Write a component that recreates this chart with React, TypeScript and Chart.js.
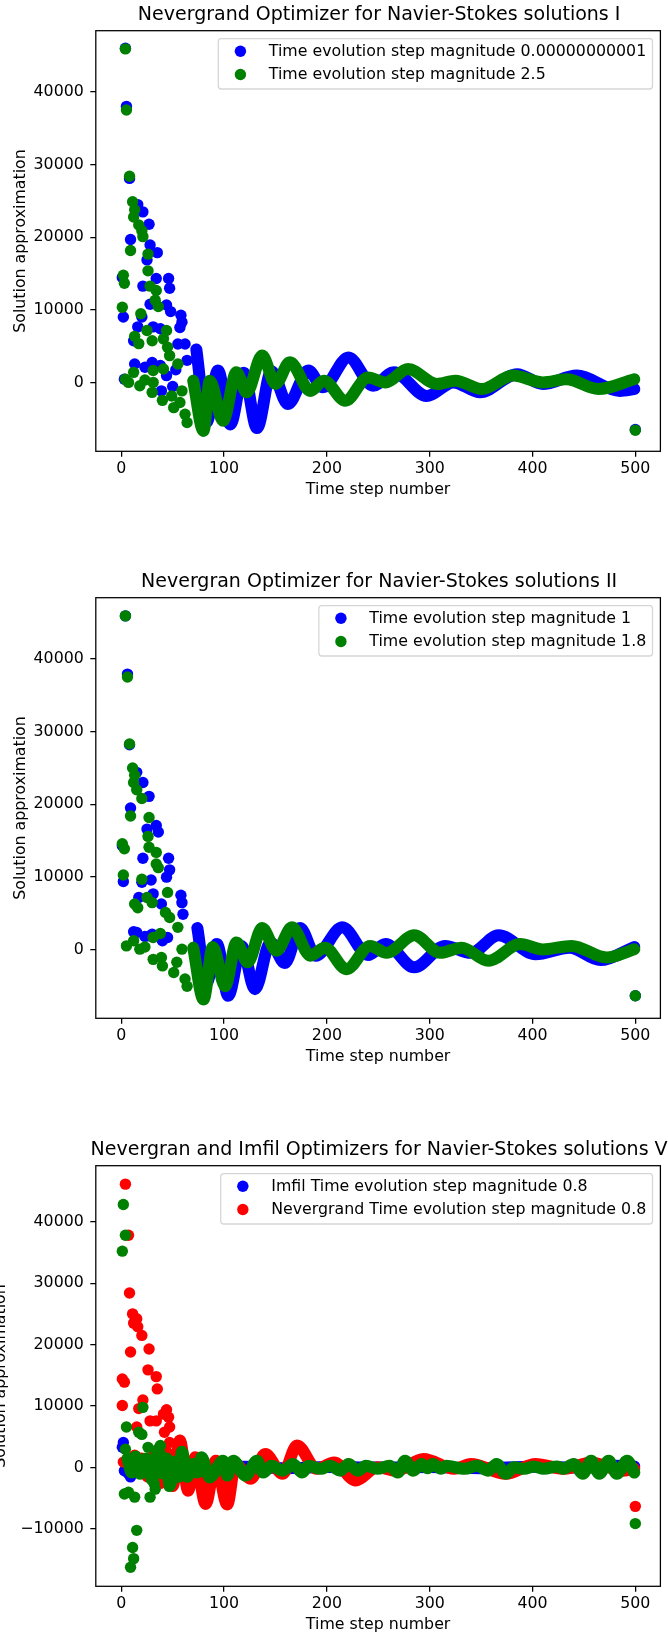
import React, { useEffect, useRef } from "react";
import { Chart, registerables } from "chart.js";

Chart.register(...registerables);

const FONT = "'DejaVu Sans', 'Liberation Sans', sans-serif";
const BLUE = "#0000ff";
const GREEN = "#008000";
const RED = "#ff0000";

const X_LABEL = "Time step number";
const Y_LABEL = "Solution approximation";
const X_TICKS = [0, 100, 200, 300, 400, 500];
const Y_TICKS_A = [0, 10000, 20000, 30000, 40000];
const Y_TICKS_B = [-10000, 0, 10000, 20000, 30000, 40000];

const TITLE_1 = "Nevergrand Optimizer for Navier-Stokes solutions I";
const TITLE_2 = "Nevergran Optimizer for Navier-Stokes solutions II";
const TITLE_3 = "Nevergran and Imfil Optimizers for Navier-Stokes solutions V";

const LEGEND_1 = ["Time evolution step magnitude 0.00000000001", "Time evolution step magnitude 2.5"];
const LEGEND_2 = ["Time evolution step magnitude 1", "Time evolution step magnitude 1.8"];
const LEGEND_3 = ["Imfil Time evolution step magnitude 0.8", "Nevergrand Time evolution step magnitude 0.8"];

// ---------- Chart I ----------
const P1_BLUE_PTS_X = [1, 2, 3, 4, 5, 8, 9, 12, 13, 16, 16, 20, 21, 21, 23, 25, 27, 28, 28, 30, 31, 34, 35, 38, 38, 39, 44, 44, 46, 47, 48, 50, 53, 55, 57, 58, 59, 62, 64, 500];
const P1_BLUE_PTS_Y = [14500, 9050, 500, 46000, 38000, 28100, 19700, 5800, 2600, 24500, 7700, 9050, 23500, 13300, 2150, 16900, 21800, 18950, 10800, 2800, 7700, 14350, 17900, 7450, 2400, -1100, 10700, 1000, 14350, 13000, 9800, -500, 1800, 5350, 7600, 9300, 8350, 5350, 3100, -6400];
const P1_BLUE_BAND_X = [73, 83, 94, 106, 119, 132, 146, 162, 182, 196, 221, 245, 265, 297, 323, 349, 385, 410, 443, 485, 499];
const P1_BLUE_BAND_Y = [4600, -5400, 1700, -5700, 1400, -6200, 1600, -2900, 1700, -600, 3500, -400, 1450, -1800, 70, -1300, 1200, -150, 1000, -1100, -850];

const P1_GREEN_PTS_X = [1, 2, 3, 4, 4, 5, 7, 8, 9, 11, 12, 12, 13, 13, 17, 17, 18, 19, 20, 21, 23, 25, 26, 26, 28, 30, 30, 31, 31, 33, 34, 36, 40, 41, 41, 44, 45, 47, 49, 51, 55, 57, 59, 62, 64, 500];
const P1_GREEN_PTS_Y = [10400, 14800, 13700, 45900, 500, 37500, 70, 28400, 18200, 24900, 22800, 1450, 23800, 6400, 21700, 5400, -400, 9500, 20900, 20100, 400, 7200, 17700, 15400, 13300, 5800, -1300, 1700, 70, 11350, 12700, 10500, -2400, 6050, 1900, 7200, 4900, 3750, -1800, -3400, 2600, -2700, -1100, -4300, -5450, -6500];
const P1_GREEN_BAND_X = [70, 80, 86, 99, 112, 122, 137, 150, 164, 184, 197, 218, 240, 257, 279, 307, 325, 351, 381, 410, 433, 464, 499];
const P1_GREEN_BAND_Y = [300, -6600, 300, -5200, 1450, -1300, 3750, -150, 2850, -1100, 300, -2450, 750, 70, 1900, -150, 300, -850, 1000, 70, 500, -850, 500];

// ---------- Chart II ----------
const P2_BLUE_PTS_X = [1, 2, 4, 6, 8, 9, 12, 15, 15, 17, 20, 21, 21, 23, 25, 27, 28, 29, 30, 31, 34, 36, 39, 40, 44, 45, 46, 47, 58, 59, 60, 500];
const P2_BLUE_PTS_Y = [14300, 9400, 45900, 37900, 28200, 19500, 2500, 24400, 2400, 7200, 9300, 23000, 12600, 1850, 16600, 21100, 1900, 9600, 2150, 7700, 17100, 16200, 6300, 1250, 10000, 1700, 12600, 11000, 7500, 6500, 4900, -6300];
const P2_BLUE_BAND_X = [74, 83, 93, 104, 117, 130, 145, 159, 174, 189, 215, 240, 257, 285, 315, 340, 367, 403, 436, 466, 499];
const P2_BLUE_BAND_Y = [3000, -4500, 800, -6300, 550, -5400, 1000, -1800, 3000, -800, 3100, -700, 800, -2400, 550, -400, 2000, -600, 300, -1400, 400];

const P2_GREEN_PTS_X = [1, 2, 3, 4, 5, 6, 8, 9, 11, 12, 12, 13, 13, 15, 16, 18, 20, 20, 23, 25, 26, 27, 27, 30, 31, 31, 34, 34, 36, 38, 39, 40, 43, 45, 47, 51, 54, 55, 59, 62, 64, 500];
const P2_GREEN_PTS_Y = [14600, 10300, 13900, 45900, 550, 37500, 28300, 18400, 25000, 23000, 1250, 24000, 6300, 22000, 5800, 100, 20800, 9700, 400, 7200, 15600, 18200, 14100, 6500, 1700, -1300, 13400, 11800, 11300, 2250, -1050, -2200, 5150, 7900, 4450, -3100, -1700, 3100, 100, -4000, -5000, -6300];
const P2_GREEN_BAND_X = [70, 80, 89, 101, 112, 123, 137, 151, 166, 184, 198, 219, 242, 258, 285, 310, 331, 357, 388, 410, 438, 472, 499];
const P2_GREEN_BAND_Y = [300, -6800, 400, -5000, 1000, -1700, 3000, -100, 3100, -800, 300, -2650, 550, -400, 2000, -400, 300, -1500, 800, 70, 550, -1050, 100];

// ---------- Chart V ----------
const P3_BLUE_PTS_X = [1, 2, 3, 7, 9];
const P3_BLUE_PTS_Y = [3300, 4100, -500, -1000, -1500];
const P3_BLUE_BAND_X = [10, 40, 80, 120, 160, 200, 250, 300, 350, 400, 450, 480, 499];
const P3_BLUE_BAND_Y = [-800, 200, 0, 150, -100, 100, 0, 100, -100, 150, 0, 300, 200];

const P3_RED_PTS_X = [1, 1, 2, 3, 4, 7, 8, 9, 11, 12, 13, 15, 15, 16, 17, 20, 21, 26, 27, 28, 34, 34, 35, 41, 42, 44, 46, 47, 47, 57, 500];
const P3_RED_PTS_Y = [14400, 10100, 900, 13900, 46100, 37800, 28400, 18800, 25000, 23500, 2000, 24200, 6600, 22900, 9600, 21500, 11000, 15900, 19300, 7600, 14800, 7600, 12800, 8700, 5750, 9400, 8200, 6600, 4100, 4400, -6300];
const P3_RED_BAND_X = [20, 26, 32, 38, 44, 50, 57, 65, 72, 82, 92, 103, 111, 126, 140, 157, 171, 190, 207, 228, 249, 267, 294, 324, 340, 374, 403, 431, 457, 487, 499];
const P3_RED_BAND_Y = [1500, -1500, 2000, -2500, 2500, -3000, 4400, -3750, 1700, -5900, 1100, -6000, 600, -1800, 2200, -1000, 3600, -200, 850, -2100, 50, -500, 1400, -200, 600, -1000, 600, -200, 850, -500, -200];

const P3_GREEN_PTS_X = [1, 2, 3, 4, 4, 5, 7, 9, 11, 12, 13, 15, 17, 20, 21, 26, 28, 32, 33, 38, 47, 500];
const P3_GREEN_PTS_Y = [35200, 42800, -4300, 37800, 3000, 6600, -4000, -16200, -13000, -14800, -4800, -10200, 5750, 5400, 9800, 3300, -4800, -2600, -3500, 3600, -2900, -9100];
const P3_GREEN_BAND_X = [6, 10, 14, 18, 24, 30, 36, 41, 44, 47, 53, 56, 59, 64, 70, 74, 78, 86, 99, 103, 109, 121, 132, 138, 146, 157, 167, 176, 182, 194, 203, 213, 221, 230, 238, 249, 261, 269, 276, 284, 292, 298, 303, 311, 316, 334, 346, 357, 365, 374, 382, 392, 401, 411, 424, 430, 440, 449, 457, 465, 474, 482, 492, 499];
const P3_GREEN_BAND_Y = [1500, -800, 1800, -1000, 1500, -2000, 3000, -1000, 1500, -3000, 1000, -1500, 2600, -1500, 600, -800, 1700, -1600, 1100, -1300, 1100, -1300, 1100, -800, 300, -500, 600, -800, 300, -200, 300, -500, 600, -500, 300, -200, 300, -800, 1100, -500, 600, -100, 600, -200, 300, -200, 300, -500, 600, -1000, 50, -200, 200, -200, 200, -200, 600, -1000, 1100, -1000, 1100, -1000, 1100, -800];

// ---------- layout ----------
const W = 668;
const BOX_LEFT = 95.8;
const BOX_RIGHT = 660.4;
const BOX_TOP = 30.7;
const BOX_BOTTOM = 451.3;
const X_MIN = -24.8;
const X_MAX = 524.4;
const DOT_R = 5.7;
const BAND_W = 12;
const TICK_FONT = 15.8;
const TITLE_FONT = 19;

type Series = {
  color: string;
  legend?: string;
  ptsX: number[];
  ptsY: number[];
  bandX: number[];
  bandY: number[];
};

type Spec = {
  title: string;
  series: Series[];
  yMin: number;
  yMax: number;
  yTicks: number[];
  yLabelX: number;
  top: number;
  height: number;
};

const SPECS: Spec[] = [
  {
    title: TITLE_1,
    series: [
      { color: BLUE, legend: LEGEND_1[0], ptsX: P1_BLUE_PTS_X, ptsY: P1_BLUE_PTS_Y, bandX: P1_BLUE_BAND_X, bandY: P1_BLUE_BAND_Y },
      { color: GREEN, legend: LEGEND_1[1], ptsX: P1_GREEN_PTS_X, ptsY: P1_GREEN_PTS_Y, bandX: P1_GREEN_BAND_X, bandY: P1_GREEN_BAND_Y },
    ],
    yMin: -9400,
    yMax: 48400,
    yTicks: Y_TICKS_A,
    yLabelX: 20.5,
    top: 0,
    height: 567,
  },
  {
    title: TITLE_2,
    series: [
      { color: BLUE, legend: LEGEND_2[0], ptsX: P2_BLUE_PTS_X, ptsY: P2_BLUE_PTS_Y, bandX: P2_BLUE_BAND_X, bandY: P2_BLUE_BAND_Y },
      { color: GREEN, legend: LEGEND_2[1], ptsX: P2_GREEN_PTS_X, ptsY: P2_GREEN_PTS_Y, bandX: P2_GREEN_BAND_X, bandY: P2_GREEN_BAND_Y },
    ],
    yMin: -9400,
    yMax: 48400,
    yTicks: Y_TICKS_A,
    yLabelX: 20.5,
    top: 567,
    height: 567,
  },
  {
    title: TITLE_3,
    series: [
      { color: BLUE, legend: LEGEND_3[0], ptsX: P3_BLUE_PTS_X, ptsY: P3_BLUE_PTS_Y, bandX: P3_BLUE_BAND_X, bandY: P3_BLUE_BAND_Y },
      { color: RED, legend: LEGEND_3[1], ptsX: P3_RED_PTS_X, ptsY: P3_RED_PTS_Y, bandX: P3_RED_BAND_X, bandY: P3_RED_BAND_Y },
      { color: GREEN, ptsX: P3_GREEN_PTS_X, ptsY: P3_GREEN_PTS_Y, bandX: P3_GREEN_BAND_X, bandY: P3_GREEN_BAND_Y },
    ],
    yMin: -19300,
    yMax: 49100,
    yTicks: Y_TICKS_B,
    yLabelX: 1,
    top: 1135,
    height: 498,
  },
];

function fmt(v: number): string {
  return v < 0 ? "\u2212" + String(Math.abs(v)) : String(v);
}

function toPoints(xs: number[], ys: number[]) {
  return xs.map((x, i) => ({ x, y: ys[i] }));
}

function Panel({ spec }: { spec: Spec }) {
  const ref = useRef<HTMLCanvasElement | null>(null);

  useEffect(() => {
    const canvas = ref.current;
    if (!canvas) return;
    const n = spec.series.length;
    const datasets: any[] = [];
    spec.series.forEach((s, si) => {
      const base = (n - si) * 2;
      datasets.push({
        label: s.legend || "",
        data: toPoints(s.bandX, s.bandY),
        showLine: true,
        borderColor: s.color,
        backgroundColor: s.color,
        borderWidth: BAND_W,
        borderCapStyle: "round",
        borderJoinStyle: "round",
        tension: 0.4,
        cubicInterpolationMode: "monotone",
        pointRadius: 0,
        pointHoverRadius: 0,
        order: base,
      });
      datasets.push({
        label: s.legend || "",
        data: toPoints(s.ptsX, s.ptsY),
        showLine: false,
        pointRadius: DOT_R,
        pointHoverRadius: DOT_R,
        pointBorderWidth: 0,
        borderWidth: 0,
        pointBackgroundColor: s.color,
        backgroundColor: s.color,
        borderColor: s.color,
        order: base - 1,
      });
    });

    const decor = {
      id: "decor",
      afterDraw(chart: any) {
        const ctx = chart.ctx as CanvasRenderingContext2D;
        const a = chart.chartArea;
        ctx.save();
        // frame (spines)
        ctx.strokeStyle = "#000";
        ctx.lineWidth = 1.27;
        ctx.strokeRect(a.left, a.top, a.right - a.left, a.bottom - a.top);
        // title
        ctx.fillStyle = "#000";
        ctx.textAlign = "center";
        ctx.textBaseline = "middle";
        ctx.font = `${TITLE_FONT}px ${FONT}`;
        ctx.fillText(spec.title, (a.left + a.right) / 2 + 1, 15.5);
        // axis labels
        ctx.font = `${TICK_FONT}px ${FONT}`;
        ctx.fillText(X_LABEL, (a.left + a.right) / 2, a.bottom + 39);
        ctx.save();
        ctx.translate(spec.yLabelX, (a.top + a.bottom) / 2);
        ctx.rotate(-Math.PI / 2);
        ctx.fillText(Y_LABEL, 0, 0);
        ctx.restore();
        // legend
        const items = spec.series.filter((s) => !!s.legend);
        ctx.font = `${TICK_FONT}px ${FONT}`;
        const tw = Math.max(...items.map((s) => ctx.measureText(s.legend as string).width));
        const right = a.right - 7.9;
        const left = right - (50.5 + tw + 6.3);
        const top = a.top + 7.9;
        const h = 50.4;
        const r = 3;
        ctx.beginPath();
        ctx.moveTo(left + r, top);
        ctx.lineTo(right - r, top);
        ctx.arcTo(right, top, right, top + r, r);
        ctx.lineTo(right, top + h - r);
        ctx.arcTo(right, top + h, right - r, top + h, r);
        ctx.lineTo(left + r, top + h);
        ctx.arcTo(left, top + h, left, top + h - r, r);
        ctx.lineTo(left, top + r);
        ctx.arcTo(left, top, left + r, top, r);
        ctx.closePath();
        ctx.fillStyle = "rgba(255,255,255,0.8)";
        ctx.fill();
        ctx.strokeStyle = "rgba(204,204,204,0.8)";
        ctx.lineWidth = 1.27;
        ctx.stroke();
        items.forEach((s, i) => {
          const y = top + 12.7 + i * 23.2;
          ctx.beginPath();
          ctx.arc(left + 22.1, y, DOT_R, 0, Math.PI * 2);
          ctx.fillStyle = s.color;
          ctx.fill();
          ctx.fillStyle = "#000";
          ctx.textAlign = "left";
          ctx.textBaseline = "middle";
          ctx.fillText(s.legend as string, left + 50.5, y + 0.5);
        });
        ctx.restore();
      },
    };

    const chart = new Chart(canvas, {
      type: "scatter",
      data: { datasets },
      options: {
        animation: false,
        responsive: false,
        maintainAspectRatio: false,
        events: [],
        layout: { padding: { top: BOX_TOP, right: W - BOX_RIGHT, left: 0, bottom: 0 } },
        plugins: {
          legend: { display: false },
          title: { display: false },
          tooltip: { enabled: false },
        },
        scales: {
          x: {
            type: "linear",
            position: "bottom",
            min: X_MIN,
            max: X_MAX,
            afterBuildTicks: (s: any) => {
              s.ticks = X_TICKS.map((v) => ({ value: v }));
            },
            afterFit: (s: any) => {
              s.height = spec.height - BOX_BOTTOM;
            },
            grid: { drawOnChartArea: false, drawTicks: true, tickLength: 5.5, color: "#000", lineWidth: 1.27 },
            border: { display: false },
            ticks: {
              color: "#000",
              font: { family: FONT, size: TICK_FONT },
              padding: 3,
              maxRotation: 0,
              autoSkip: false,
              callback: (v: any) => fmt(Number(v)),
            },
          },
          y: {
            type: "linear",
            position: "left",
            min: spec.yMin,
            max: spec.yMax,
            afterBuildTicks: (s: any) => {
              s.ticks = spec.yTicks.map((v) => ({ value: v }));
            },
            afterFit: (s: any) => {
              s.width = BOX_LEFT;
            },
            grid: { drawOnChartArea: false, drawTicks: true, tickLength: 5.5, color: "#000", lineWidth: 1.27 },
            border: { display: false },
            ticks: {
              color: "#000",
              font: { family: FONT, size: TICK_FONT },
              padding: 6.5,
              autoSkip: false,
              callback: (v: any) => fmt(Number(v)),
            },
          },
        },
      } as any,
      plugins: [decor],
    });

    return () => {
      chart.destroy();
    };
  }, [spec]);

  return (
    <canvas
      ref={ref}
      width={W}
      height={spec.height}
      style={{ position: "absolute", left: 0, top: spec.top, width: W, height: spec.height, display: "block" }}
    />
  );
}

export default function App() {
  return (
    <div
      style={{
        position: "absolute",
        left: 0,
        top: 0,
        width: W,
        height: 1633,
        overflow: "hidden",
        background: "#ffffff",
      }}
    >
      {SPECS.map((spec, i) => (
        <Panel key={i} spec={spec} />
      ))}
    </div>
  );
}
